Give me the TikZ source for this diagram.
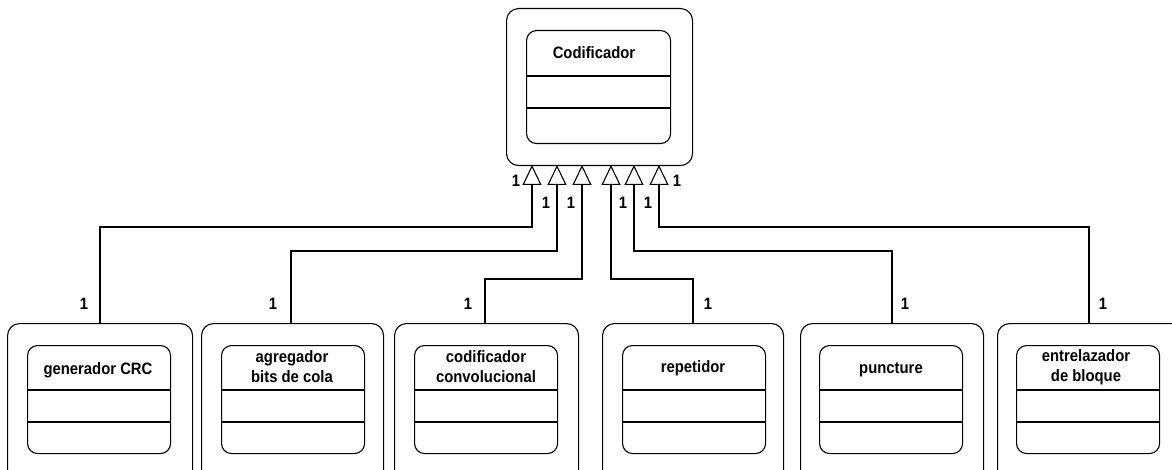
\documentclass[tikz,border=0pt]{standalone}
\usepackage{fontspec}
\setmainfont{Liberation Sans}[FakeStretch=0.9]
\usetikzlibrary{arrows.meta}
\tikzset{
  x=1pt, y=-1pt,
  every node/.style={font=\fontsize{16.5pt}{20pt}\selectfont\bfseries, inner sep=0pt},
  outerbox/.style={draw, line width=1.1pt, rounded corners=12pt, anchor=north west},
  innerbox/.style={draw, line width=1.1pt, rounded corners=10pt, anchor=north west},
  sep/.style={line width=1.1pt},
  title/.style={align=center},
  mult/.style={},
  inherit/.style={line width=1.1pt, -{Triangle[open, length=20pt, width=19pt]}},
}
\begin{document}
\begin{tikzpicture}
\clip (0,0) rectangle (1172,470);
\fill[white] (0,0) rectangle (1172,470);

% parent class
\node[outerbox, minimum width=186pt, minimum height=157pt] (cod) at (506,8) {};
\node[innerbox, minimum width=144pt, minimum height=113pt] (codin) at (526,30) {};
\draw[sep] (codin.west |- 0,76) -- (codin.east |- 0,76);
\draw[sep] (codin.west |- 0,108) -- (codin.east |- 0,108);
\node[title] (codt) at (594,53) {Codificador};

% child classes: outer frame, inner class box with compartments
\foreach \n/\ox/\ow/\ix in {
  g/7/185/27, a/201/182/221, c/394/184/414,
  r/602/181/622, p/800/183/819, e/997/190/1016} {
  \node[outerbox, minimum width=\ow pt, minimum height=200pt] (\n) at (\ox,323) {};
  \node[innerbox, minimum width=143pt, minimum height=108pt] (\n in) at (\ix,345) {};
  \draw[sep] (\n in.west |- 0,390) -- (\n in.east |- 0,390);
  \draw[sep] (\n in.west |- 0,422) -- (\n in.east |- 0,422);
}
\node[title] (gt) at (98,370) {generador CRC};
\node[title] (at) at (292,367) {agregador\\bits de cola};
\node[title] (ct) at (486,367) {codificador\\convolucional};
\node[title] (rt) at (693,368) {repetidor};
\node[title] (pt) at (891,370) {puncture};
\node[title] (et) at (1086,367) {entrelazador\\de bloque};

% attachment points on the parent
\coordinate (t1) at (532,165);
\coordinate (t2) at (557,165);
\coordinate (t3) at (582,165);
\coordinate (t4) at (611,165);
\coordinate (t5) at (634,165);
\coordinate (t6) at (659,165);

% attachment points on the children
\coordinate (b1) at (100,323);
\coordinate (b2) at (291,323);
\coordinate (b3) at (485,323);
\coordinate (b4) at (693,323);
\coordinate (b5) at (892,323);
\coordinate (b6) at (1089,323);

% generalisation connectors
\draw[inherit] (b1) |- (532,227) -- (t1);
\draw[inherit] (b2) |- (557,251) -- (t2);
\draw[inherit] (b3) |- (582,279) -- (t3);
\draw[inherit] (b4) |- (611,279) -- (t4);
\draw[inherit] (b5) |- (634,251) -- (t5);
\draw[inherit] (b6) |- (659,227) -- (t6);

% multiplicities at the parent end
\node[mult] (m1) at (516,181) {1};
\node[mult] (m2) at (546,203) {1};
\node[mult] (m3) at (571,203) {1};
\node[mult] (m4) at (623,203) {1};
\node[mult] (m5) at (648,203) {1};
\node[mult] (m6) at (677,181) {1};

% multiplicities at the child end
\node[mult] (n1) at (84,304) {1};
\node[mult] (n2) at (273,304) {1};
\node[mult] (n3) at (468,304) {1};
\node[mult] (n4) at (708,304) {1};
\node[mult] (n5) at (905,304) {1};
\node[mult] (n6) at (1103,304) {1};
\end{tikzpicture}
\end{document}
